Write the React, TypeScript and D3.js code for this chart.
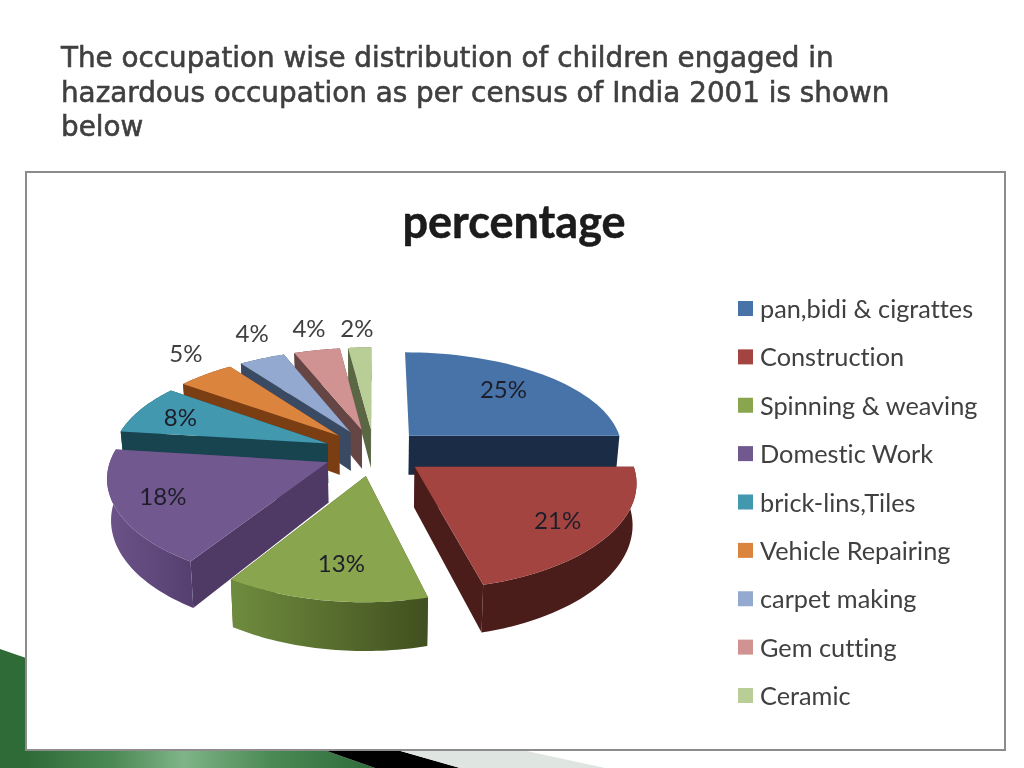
import React from 'react';
import * as d3 from 'd3';

const categories = ['pan,bidi & cigrattes', 'Construction', 'Spinning & weaving', 'Domestic Work', 'brick-lins,Tiles', 'Vehicle Repairing', 'carpet making', 'Gem cutting', 'Ceramic'];
const percentages = [25, 21, 13, 18, 8, 5, 4, 4, 2];
const topColors = ['#4773a8', '#a44441', '#89a54e', '#71588f', '#4198af', '#db843d', '#93a9cf', '#d19392', '#b9cd96'];
const sideColors = ['#1b2c47', '#4a1c1a', '#44521f', '#4f3a66', '#17444f', '#7a3e12', '#3b4a63', '#664644', '#5a6644'];
const wallLeft = ['#1b2c47', '#4a1c1a', '#6f8c3e', '#6c5389', '#17444f', '#7a3e12', '#3b4a63', '#664644', '#5a6644'];
const wallRight = ['#1b2c47', '#4a1c1a', '#41501f', '#553f6f', '#17444f', '#7a3e12', '#3b4a63', '#664644', '#5a6644'];
const titleLines = ['The occupation wise distribution of children engaged in', 'hazardous occupation as per census of India 2001 is shown', 'below'];
// hand nudges for the percent labels, same order as the slices
const labelNudge = [[-4, -1], [8, 5], [4, 3], [-15, 2], [-11, -1], [14, -5], [12, -7], [3, -2], [0, 1]];

// back slices first, the front ones paint over them
const drawOrder = [8, 7, 6, 5, 4, 0, 3, 2, 1];

const cx = 374;
const cy = 452;
const rx = 215;
const ry = 100;
const perspX = 0.13;
const perspY = 0.146;
const explode = 0.235;
const depth = 40;

type P = [number, number];

const project = (u: number, v: number, bottom = false): P => {
  const sx = 1 / (1 + perspX * v);
  const sy = 1 / (1 + perspY * v);
  const k = bottom ? 0.985 : 1;
  return [cx + rx * u * sx * k, cy - ry * v * sy + (bottom ? depth * sy : 0)];
};

const arcs = d3.pie<number>().sort(null).value(d => d)(percentages);
const line = d3.line();

const legendY = d3.scalePoint<string>().domain(categories).range([309, 696]);

const App = () => {
  const slices = arcs.map((a, i) => {
    const mid = (a.startAngle + a.endAngle) / 2;
    const ou = explode * Math.sin(mid);
    const ov = explode * Math.cos(mid);
    const thetas = d3.range(0, 41).map(t => a.startAngle + (a.endAngle - a.startAngle) * t / 40);
    const rim = (bottom: boolean) => thetas.map(t => project(ou + Math.sin(t), ov + Math.cos(t), bottom));
    const top = rim(false);
    const low = rim(true);
    const apex = project(ou, ov);
    const apexLow = project(ou, ov, true);
    // small slices carry their label outside the rim
    const r = percentages[i] >= 8 ? 0.72 : 1.28;
    const label = project(ou + r * Math.sin(mid), ov + r * Math.cos(mid));
    return {
      i,
      label: [label[0] + labelNudge[i][0], label[1] + labelNudge[i][1]],
      facePath: line([apex, ...top])! + 'Z',
      wallPath: line([...top, ...low.slice().reverse()])! + 'Z',
      sideA: line([apex, top[0], low[0], apexLow])! + 'Z',
      sideB: line([apex, top[40], low[40], apexLow])! + 'Z'
    };
  });

  return (
    <svg width={1024} height={768} style={{ position: 'absolute', left: 0, top: 0, display: 'block', background: '#fff' }}>
      <defs>
        <linearGradient id="band" x1="0" x2="1" y1="0" y2="0">
          <stop offset="0" stopColor="#2e6a38" />
          <stop offset="0.25" stopColor="#4b8a55" />
          <stop offset="0.45" stopColor="#80b488" />
          <stop offset="0.7" stopColor="#4b8a55" />
          <stop offset="1" stopColor="#2d6b3a" />
        </linearGradient>
        {categories.map((c, i) => (
          <linearGradient key={c} id={`wall${i}`} x1="0" x2="1" y1="0" y2="0">
            <stop offset="0" stopColor={wallLeft[i]} />
            <stop offset="1" stopColor={wallRight[i]} />
          </linearGradient>
        ))}
        <filter id="soft"><feGaussianBlur stdDeviation="0.4" /></filter>
      </defs>

      <path d="M0,649L26,658V768H0Z" fill="#2f6b37" />
      <path d="M26,750H324L375,768H26Z" fill="url(#band)" />
      <path d="M324,750H397L460,768H375Z" fill="#000" />
      <path d="M397,750H522L605,768H460Z" fill="#dfe5e0" />

      <g fontFamily="'DejaVu Sans'" fontSize={27.8} fill="#3f3f3f" stroke="#3f3f3f" strokeWidth={0.6} filter="url(#soft)">
        {titleLines.map((t, i) => (
          <text key={t} x={61} y={67 + i * 34.5}>{t}</text>
        ))}
      </g>

      <rect x={26} y={172} width={979} height={578} fill="#fff" stroke="#8c8c8c" strokeWidth={2} />

      <text x={514} y={238} textAnchor="middle" fontFamily="Lato" fontWeight={700} fontSize={45} fill="#1a1a1a" stroke="#1a1a1a" strokeWidth={0.5} filter="url(#soft)" style={{ fontVariantLigatures: 'none' }}>percentage</text>

      {drawOrder.map(idx => {
        const s = slices[idx];
        return (
          <g key={idx}>
            {idx !== 0 && <path d={s.sideA} fill={sideColors[idx]} />}
            <path d={s.sideB} fill={sideColors[idx]} />
            {idx !== 0 && <path d={s.wallPath} fill={`url(#wall${idx})`} />}
            <path d={s.facePath} fill={topColors[idx]} />
          </g>
        );
      })}

      <g fontFamily="Lato" fontSize={24} textAnchor="middle" filter="url(#soft)">
        {slices.map(s => (
          <text key={s.i} x={s.label[0]} y={s.label[1] + 8} fill={percentages[s.i] >= 8 ? '#1f1f2a' : '#404040'}>{percentages[s.i]}%</text>
        ))}
      </g>

      <g fontFamily="Lato" fontSize={25.3} fill="#404040" style={{ fontVariantLigatures: 'none' }}>
        {categories.map((c, i) => (
          <g key={c}>
            <rect x={738} y={legendY(c)! - 8} width={15} height={15} fill={topColors[i]} />
            <text x={760} y={legendY(c)! + 9} filter="url(#soft)">{c}</text>
          </g>
        ))}
      </g>
    </svg>
  );
};

export default App;
